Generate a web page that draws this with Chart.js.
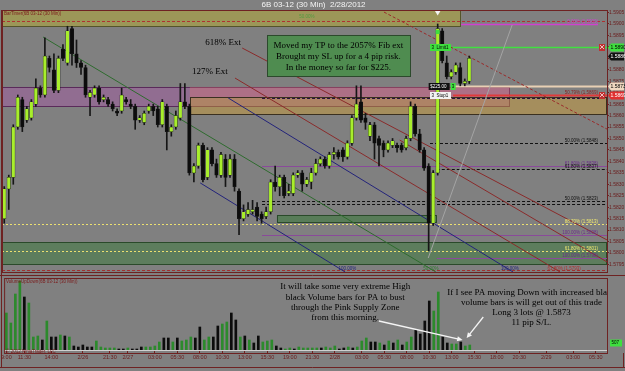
<!DOCTYPE html>
<html>
<head>
<meta charset="utf-8">
<script src="https://cdn.jsdelivr.net/npm/chart.js@4.4.1/dist/chart.umd.min.js"></script>
<style>
  html, body { margin: 0; padding: 0; background: #808080; }
  #wrap { position: relative; width: 625px; height: 371px; overflow: hidden; background: #808080; }
  canvas { position: absolute; left: 0; }
  #price { top: 0; }
  #volume { top: 275px; }
</style>
</head>
<body>
<div id="wrap">
  <canvas id="price" width="625" height="276"></canvas>
  <canvas id="volume" width="625" height="96"></canvas>
</div>
<script>
// 30 min bars, 6B 03-12
const SLOT_COUNT = 134; // 104 bars + empty space on the right

const opens = [
  1.5815, 1.5828, 1.5833, 1.5855, 1.5867, 1.5858, 1.5859, 1.5865, 1.5872, 1.5869,
  1.5885, 1.5880, 1.5871, 1.5889, 1.5883, 1.5898, 1.5887, 1.5883, 1.5881, 1.5868,
  1.5869, 1.5872, 1.5867, 1.5867, 1.5865, 1.5862, 1.5862, 1.5867, 1.5865, 1.5864,
  1.5858, 1.5857, 1.5862, 1.5864, 1.5863, 1.5856, 1.5864, 1.5853, 1.5855, 1.5859,
  1.5866, 1.5864, 1.5835, 1.5838, 1.5847, 1.5833, 1.5845, 1.5839, 1.5834, 1.5841,
  1.5834, 1.5841, 1.5827, 1.5815, 1.5817, 1.5818, 1.5820, 1.5817, 1.5816, 1.5818,
  1.5831, 1.5829, 1.5833, 1.5826, 1.5826, 1.5834, 1.5835, 1.5830, 1.5831, 1.5835,
  1.5839, 1.5841, 1.5838, 1.5843, 1.5844, 1.5845, 1.5842, 1.5848, 1.5859, 1.5866,
  1.5859, 1.5851, 1.5856, 1.5850, 1.5848, 1.5845, 1.5847, 1.5847, 1.5847, 1.5846,
  1.5850, 1.5864, 1.5852, 1.5845, 1.5838, 1.5813, 1.5835, 1.5897, 1.5883, 1.5877,
  1.5879, 1.5881, 1.5874, 1.5875
];
const highs = [
  1.5829, 1.5834, 1.5856, 1.5869, 1.5868, 1.5864, 1.5867, 1.5876, 1.5873, 1.5894,
  1.5886, 1.5887, 1.5886, 1.5891, 1.5899, 1.5899, 1.5893, 1.5884, 1.5882, 1.5871,
  1.5873, 1.5873, 1.5869, 1.5868, 1.5866, 1.5863, 1.5872, 1.5868, 1.5867, 1.5865,
  1.5860, 1.5862, 1.5865, 1.5865, 1.5864, 1.5867, 1.5865, 1.5856, 1.5862, 1.5874,
  1.5874, 1.5865, 1.5839, 1.5848, 1.5848, 1.5846, 1.5846, 1.5841, 1.5844, 1.5843,
  1.5843, 1.5843, 1.5828, 1.5821, 1.5822, 1.5823, 1.5822, 1.5818, 1.5820, 1.5832,
  1.5838, 1.5834, 1.5834, 1.5830, 1.5835, 1.5836, 1.5836, 1.5833, 1.5837, 1.5841,
  1.5842, 1.5842, 1.5844, 1.5846, 1.5845, 1.5846, 1.5849, 1.5860, 1.5873, 1.5873,
  1.5861, 1.5857, 1.5857, 1.5851, 1.5849, 1.5849, 1.5850, 1.5848, 1.5848, 1.5851,
  1.5866, 1.5865, 1.5854, 1.5846, 1.5839, 1.5836, 1.5900, 1.5898, 1.5886, 1.5880,
  1.5883, 1.5883, 1.5876, 1.5886
];
const lows = [
  1.5813, 1.5819, 1.5830, 1.5854, 1.5853, 1.5857, 1.5858, 1.5864, 1.5868, 1.5868,
  1.5879, 1.5870, 1.5870, 1.5884, 1.5882, 1.5882, 1.5881, 1.5878, 1.5868, 1.5860,
  1.5868, 1.5865, 1.5866, 1.5864, 1.5862, 1.5860, 1.5861, 1.5865, 1.5863, 1.5854,
  1.5857, 1.5856, 1.5861, 1.5860, 1.5855, 1.5855, 1.5845, 1.5851, 1.5854, 1.5858,
  1.5863, 1.5834, 1.5831, 1.5837, 1.5831, 1.5832, 1.5838, 1.5833, 1.5833, 1.5829,
  1.5833, 1.5827, 1.5808, 1.5814, 1.5816, 1.5817, 1.5814, 1.5813, 1.5815, 1.5817,
  1.5827, 1.5825, 1.5824, 1.5825, 1.5825, 1.5833, 1.5827, 1.5829, 1.5828, 1.5834,
  1.5838, 1.5837, 1.5837, 1.5841, 1.5841, 1.5840, 1.5841, 1.5847, 1.5858, 1.5857,
  1.5854, 1.5849, 1.5841, 1.5838, 1.5842, 1.5844, 1.5846, 1.5844, 1.5844, 1.5845,
  1.5849, 1.5851, 1.5844, 1.5836, 1.5801, 1.5812, 1.5834, 1.5883, 1.5876, 1.5876,
  1.5878, 1.5873, 1.5873, 1.5874
];
const closes = [
  1.5828, 1.5833, 1.5855, 1.5868, 1.5855, 1.5863, 1.5866, 1.5872, 1.5869, 1.5886,
  1.5881, 1.5871, 1.5885, 1.5885, 1.5897, 1.5887, 1.5883, 1.5881, 1.5869, 1.5870,
  1.5872, 1.5866, 1.5868, 1.5865, 1.5863, 1.5861, 1.5869, 1.5866, 1.5864, 1.5858,
  1.5859, 1.5861, 1.5864, 1.5862, 1.5856, 1.5866, 1.5853, 1.5855, 1.5860, 1.5866,
  1.5864, 1.5835, 1.5838, 1.5847, 1.5832, 1.5845, 1.5839, 1.5834, 1.5843, 1.5833,
  1.5841, 1.5829, 1.5815, 1.5818, 1.5819, 1.5819, 1.5816, 1.5815, 1.5818, 1.5831,
  1.5829, 1.5833, 1.5825, 1.5827, 1.5834, 1.5835, 1.5830, 1.5832, 1.5835, 1.5839,
  1.5841, 1.5838, 1.5843, 1.5844, 1.5842, 1.5842, 1.5848, 1.5859, 1.5865, 1.5858,
  1.5857, 1.5856, 1.5848, 1.5847, 1.5845, 1.5848, 1.5849, 1.5846, 1.5845, 1.5850,
  1.5864, 1.5852, 1.5845, 1.5837, 1.5813, 1.5835, 1.5898, 1.5884, 1.5877, 1.5879,
  1.5882, 1.5874, 1.5875, 1.5885
];

const volumes = [
  3700, 2700, 5600, 6900, 5300, 4700, 1300, 1400, 1000, 2900,
  1300, 1300, 1500, 1400, 1300, 400, 300, 500, 300, 300,
  900, 300, 200, 200, 200, 100, 100, 200, 100, 100,
  300, 300, 300, 400, 800, 1200, 1200, 800, 1200, 900,
  1000, 1300, 1200, 2300, 1000, 1300, 1300, 2400, 2600, 2800,
  3700, 3000, 1300, 1400, 1000, 700, 1400, 800, 900, 1000,
  400, 200, 100, 200, 100, 300, 200, 200, 200, 200,
  200, 300, 200, 400, 100, 200, 300, 200, 300, 900,
  1200, 800, 800, 700, 500, 900, 700, 1000, 500, 800,
  1300, 2000, 1600, 2900, 4900, 3900, 5800, 1300, 700, 600,
  600, 800, 400, 500
];
// 1 = up volume (green), 0 = down volume (black)
const volumeUp = [
  1, 1, 1, 1, 0, 1, 1, 1, 0, 1,
  0, 0, 1, 0, 1, 0, 0, 0, 0, 0,
  1, 1, 1, 1, 1, 0, 0, 1, 0, 0,
  0, 1, 1, 1, 1, 0, 0, 1, 0, 1,
  1, 1, 0, 0, 1, 1, 0, 0, 1, 1,
  0, 0, 1, 0, 1, 0, 0, 1, 1, 1,
  0, 0, 1, 1, 0, 1, 1, 1, 1, 1,
  0, 1, 1, 1, 0, 0, 1, 0, 1, 1,
  1, 0, 0, 1, 0, 1, 0, 1, 0, 1,
  1, 0, 0, 0, 0, 1, 1, 0, 0, 1,
  1, 0, 1, 1
];

const timeLabels = ['9:00', '11:30', '14:00', '2/26', '21:30', '2/27', '03:00', '05:30', '08:00', '10:30',
  '13:00', '15:30', '19:00', '21:30', '2/28', '03:00', '05:30', '08:00', '10:30', '13:00',
  '15:30', '18:00', '20:30', '2/29', '03:00', '05:30'];
const timeSlots = [0, 4, 10, 17, 23, 27, 33, 38, 43, 48, 53, 58, 63, 68, 73, 79, 84, 89, 94, 99,
  104, 109, 114, 120, 126, 131];

const priceTicks = [1.5795, 1.5800, 1.5805, 1.5810, 1.5815, 1.5820, 1.5825, 1.5830, 1.5835, 1.5840,
  1.5845, 1.5850, 1.5855, 1.5860, 1.5865, 1.5870, 1.5875, 1.5880, 1.5885, 1.5890, 1.5895, 1.5900, 1.5905];
const priceMin = 1.57917, priceMax = 1.59061;

const slotLabels = Array.from({ length: SLOT_COUNT }, () => '');
timeSlots.forEach((s, k) => { slotLabels[s] = timeLabels[k]; });

// drawing objects, anchored in bar index / price
const zones = [
  { from: -0.5, to: 101.2, hi: 1.5906, lo: 1.58987, fill: 'rgba(190,180,40,0.45)', line: '#55552a' },
  { from: -0.5, to: 112, hi: 1.58725, lo: 1.58638, fill: 'rgba(170,80,170,0.4)', line: '#5a2a5a' },
  { from: 41.1, to: 112, hi: 1.58725, lo: 1.58681, fill: 'rgba(240,120,110,0.3)', line: null },
  { from: 41.1, to: 133.5, hi: 1.58681, lo: 1.58603, fill: 'rgba(210,160,50,0.45)', line: '#3a3020' },
  { from: -0.5, to: 133.5, hi: 1.58048, lo: 1.57948, fill: 'rgba(40,120,40,0.4)', line: '#2a4a2a' },
  { from: 60.4, to: 95.8, hi: 1.58166, lo: 1.58131, fill: 'rgba(40,120,40,0.45)', line: '#2a4a2a' }
];
const levels = [
  { p: 1.59015, from: -0.5, to: 133.5, color: '#b03030', dash: [3, 2] },
  { p: 1.5900, from: 101.2, to: 131.5, color: '#d040d0', w: 1.5 },
  { p: 1.5890, from: 94.3, to: 133.5, color: '#40e040', w: 1.5 },
  { p: 1.5873, from: 99.4, to: 133.5, color: '#e8d0b4', w: 2 },
  { p: 1.5869, from: 99.4, to: 133.5, color: '#e03a3a', w: 2 },
  { p: 1.58677, from: 57.1, to: 133.5, color: '#2a1040', dash: [3, 2] },
  { p: 1.5848, from: 94.3, to: 133.5, color: '#111', dash: [3, 2] },
  { p: 1.5838, from: 57.1, to: 133.5, color: '#8a4a9a' },
  { p: 1.58367, from: 95.8, to: 133.5, color: '#111', dash: [3, 2] },
  { p: 1.58227, from: 57.1, to: 133.5, color: '#111', dash: [3, 2] },
  { p: 1.58216, from: 57.1, to: 133.5, color: '#111', dash: [3, 2] },
  { p: 1.58127, from: -0.5, to: 133.5, color: '#ece070', dash: [2, 2] },
  { p: 1.58079, from: 57.1, to: 133.5, color: '#8a4a9a' },
  { p: 1.58009, from: -0.5, to: 133.5, color: '#ece070', dash: [2, 2] },
  { p: 1.57978, from: 95.8, to: 133.5, color: '#8a4a9a' },
  { p: 1.57925, from: -0.5, to: 133.5, color: '#a03030', dash: [3, 2] }
];
const trendLines = [
  { a: [8.6, 1.58943], b: [95.6, 1.57917], color: '#2e6b2e' },
  { a: [43.4, 1.58306], b: [75.5, 1.57917], color: '#23237a' },
  { a: [49.6, 1.58677], b: [112.7, 1.57917], color: '#23237a' },
  { a: [84.1, 1.59052], b: [133.5, 1.58541], color: '#9a2a2a', dash: [3, 2] },
  { a: [52.7, 1.58895], b: [133.5, 1.58057], color: '#8a2a2a' },
  { a: [51.1, 1.58764], b: [123.1, 1.57917], color: '#8a2a2a' },
  { a: [87.6, 1.58493], b: [133.5, 1.57961], color: '#8a2a2a' },
  { a: [93.9, 1.57978], b: [112.5, 1.58996], color: '#a4a4a4' }
];
const fibTags = [
  { p: 1.5900, text: '0.00% (1.5900)', color: '#d040d0' },
  { p: 1.5869, text: '50.79% (1.5869)', color: '#8a2020' },
  { p: 1.5848, text: '50.00% (1.5848)', color: '#111' },
  { p: 1.5838, text: '61.80% (1.5838)', color: '#6a2a8a' },
  { p: 1.58367, text: '61.80% (1.5837)', color: '#111' },
  { p: 1.58227, text: '50.00% (1.5823)', color: '#111' },
  { p: 1.58127, text: '88.70% (1.5813)', color: '#f0e870' },
  { p: 1.58079, text: '100.00% (1.5808)', color: '#6a2a8a' },
  { p: 1.58009, text: '61.80% (1.5801)', color: '#f0e870' },
  { p: 1.57978, text: '100.00% (1.5798)', color: '#6a2a8a' }
];
const axisTags = [
  { p: 1.5890, text: '1.5890', fill: '#3ee03e', color: '#000' },
  { p: 1.5886, text: '1.5886', fill: '#101010', color: '#fff' },
  { p: 1.5873, text: '1.5873', fill: '#f0d8c0', color: '#000' },
  { p: 1.5869, text: '1.5869', fill: '#e03030', color: '#fff' }
];
const orderTags = [
  { p: 1.5890, at: 94.3, text: '3  Limit1', fill: '#3ee03e', color: '#000' },
  { p: 1.5873, at: 94.0, text: '$225.00', fill: '#101010', color: '#fff', badge: '3' },
  { p: 1.5869, at: 94.3, text: '3  Stop1', fill: '#f2f2f2', color: '#000' }
];
const priceNotes = [
  { text: '618% Ext', x: 44.5, p: 1.58908, align: 'left' },
  { text: '127% Ext', x: 41.6, p: 1.58782, align: 'left' }
];
const noteBox = { from: 58.2, to: 89.9, hi: 1.58952, lo: 1.58773, x: 74,
  lines: ['Moved my TP to the 2057% Fib ext', 'Brought my SL up for a 4 pip risk.', 'In the money so far for $225.'],
  at: [1.58904, 1.58856, 1.58808] };
const volumeNotes = [
  { x: 75.3, at: [6300, 5270, 4240, 3210],
    lines: ['It will take some very extreme High', 'black Volume bars for PA to bust', 'through the Pink Supply Zone', 'from this morning.'] },
  { x: 116.7, at: [5700, 4700, 3700, 2700],
    lines: ['If I see PA moving Down with increased black', 'volume bars is will get out of this trade', 'Long 3 lots @ 1.5873', '11 pip S/L.'] }
];
const arrows = [
  { a: [82.8, 2900], b: [101.4, 1000] },
  { a: [106.0, 3300], b: [102.3, 1200] }
];

const FRAME = '#6e2222';
const SERIF = 'Liberation Serif';
Chart.defaults.font.family = 'Liberation Sans';

function hLine(ctx, x0, x1, y, color, w, dash) {
  ctx.save();
  ctx.strokeStyle = color;
  ctx.lineWidth = w || 1;
  ctx.setLineDash(dash || []);
  ctx.beginPath();
  ctx.moveTo(x0, Math.round(y) + 0.5);
  ctx.lineTo(x1, Math.round(y) + 0.5);
  ctx.stroke();
  ctx.restore();
}

const pricePlugin = {
  id: 'priceDecor',
  beforeDatasetsDraw(chart) {
    const { ctx, chartArea: a, scales: { x, y } } = chart;
    ctx.save();
    ctx.beginPath();
    ctx.rect(a.left, a.top, a.right - a.left, a.bottom - a.top);
    ctx.clip();
    zones.forEach(z => {
      const x0 = x.getPixelForValue(z.from), x1 = x.getPixelForValue(z.to);
      const y0 = y.getPixelForValue(z.hi), y1 = y.getPixelForValue(z.lo);
      ctx.fillStyle = z.fill;
      ctx.fillRect(x0, y0, x1 - x0, y1 - y0);
      if (z.line) {
        ctx.strokeStyle = z.line;
        ctx.lineWidth = 1;
        ctx.strokeRect(Math.round(x0) + 0.5, Math.round(y0) + 0.5, Math.round(x1 - x0) - 1, Math.round(y1 - y0) - 1);
      }
    });
    levels.forEach(l => hLine(ctx, x.getPixelForValue(l.from), x.getPixelForValue(l.to), y.getPixelForValue(l.p), l.color, l.w, l.dash));
    trendLines.forEach(t => {
      ctx.save();
      ctx.strokeStyle = t.color;
      ctx.lineWidth = 1;
      ctx.setLineDash(t.dash || []);
      ctx.beginPath();
      ctx.moveTo(x.getPixelForValue(t.a[0]), y.getPixelForValue(t.a[1]));
      ctx.lineTo(x.getPixelForValue(t.b[0]), y.getPixelForValue(t.b[1]));
      ctx.stroke();
      ctx.restore();
    });
    // band labels
    ctx.font = '4.5px Liberation Sans';
    ctx.textBaseline = 'middle';
    ctx.textAlign = 'left';
    ctx.fillStyle = '#7a1a1a';
    ctx.fillText('BarTimer(6B 03-12 (30 Min))', a.left + 2, a.top + 4);
    ctx.fillStyle = '#4f9a3f';
    ctx.textAlign = 'center';
    ctx.fillText('50.00%', x.getPixelForValue(67), y.getPixelForValue(1.5903));
    ctx.restore();
  },
  afterDatasetsDraw(chart) {
    const { ctx, chartArea: a, scales: { x, y } } = chart;
    ctx.save();
    ctx.beginPath();
    ctx.rect(a.left, a.top, a.right - a.left, a.bottom - a.top);
    ctx.clip();

    // fib level texts
    ctx.font = '4.5px Liberation Sans';
    ctx.textAlign = 'right';
    ctx.textBaseline = 'bottom';
    fibTags.forEach(f => {
      ctx.fillStyle = f.color;
      ctx.fillText(f.text, a.right - 9, y.getPixelForValue(f.p));
    });
    ctx.textAlign = 'center';
    ctx.fillStyle = '#23237a';
    ctx.fillText('100.00%', x.getPixelForValue(76), a.bottom - 1);
    ctx.fillText('100.00%', x.getPixelForValue(112), a.bottom - 1);
    ctx.fillStyle = '#2e7b2e';
    ctx.fillText('50.00%', x.getPixelForValue(94.5), a.bottom - 1);
    ctx.fillStyle = '#b03030';
    ctx.fillText('61.80% (1.5793)', x.getPixelForValue(124), a.bottom - 1);

    // chart trader labels
    ctx.textBaseline = 'middle';
    ctx.textAlign = 'left';
    orderTags.forEach(o => {
      const px = x.getPixelForValue(o.at), py = Math.round(y.getPixelForValue(o.p));
      ctx.fillStyle = o.fill;
      ctx.fillRect(px, py - 3, 21, 7);
      ctx.fillStyle = o.color;
      ctx.fillText(o.text, px + 1.5, py + 0.5);
      if (o.badge) {
        ctx.fillStyle = '#3ee03e';
        ctx.fillRect(px + 22, py - 3, 5, 7);
        ctx.fillStyle = '#000';
        ctx.fillText(o.badge, px + 23, py + 0.5);
      }
    });
    [1.5890, 1.5869].forEach(p => {
      const py = Math.round(y.getPixelForValue(p));
      ctx.fillStyle = '#c03030';
      ctx.fillRect(a.right - 8, py - 3, 6, 7);
      ctx.strokeStyle = '#fff';
      ctx.lineWidth = 0.7;
      ctx.beginPath();
      ctx.moveTo(a.right - 7, py - 2); ctx.lineTo(a.right - 3, py + 2);
      ctx.moveTo(a.right - 3, py - 2); ctx.lineTo(a.right - 7, py + 2);
      ctx.stroke();
    });

    // high marker
    const mx = x.getPixelForValue(96);
    const my = y.getPixelForValue(1.5905);
    ctx.fillStyle = '#f4f4f4';
    ctx.beginPath();
    ctx.moveTo(mx - 3, my - 2); ctx.lineTo(mx + 3, my - 2); ctx.lineTo(mx, my + 3);
    ctx.closePath();
    ctx.fill();
    ctx.fillStyle = '#3ee03e';
    ctx.fillRect(mx - 2, y.getPixelForValue(1.58965) - 2, 4, 4);

    // text notes
    ctx.fillStyle = '#000';
    ctx.font = '9px ' + SERIF;
    ctx.textBaseline = 'alphabetic';
    priceNotes.forEach(n => {
      ctx.textAlign = n.align;
      ctx.fillText(n.text, x.getPixelForValue(n.x), y.getPixelForValue(n.p));
    });
    const bx0 = x.getPixelForValue(noteBox.from), bx1 = x.getPixelForValue(noteBox.to);
    const by0 = y.getPixelForValue(noteBox.hi), by1 = y.getPixelForValue(noteBox.lo);
    ctx.fillStyle = '#4f8c50';
    ctx.fillRect(bx0, by0, bx1 - bx0, by1 - by0);
    ctx.strokeStyle = '#2c4a2c';
    ctx.lineWidth = 1;
    ctx.strokeRect(Math.round(bx0) + 0.5, Math.round(by0) + 0.5, Math.round(bx1 - bx0), Math.round(by1 - by0));
    ctx.fillStyle = '#000';
    ctx.textAlign = 'center';
    ctx.textBaseline = 'middle';
    noteBox.lines.forEach((t, k) => ctx.fillText(t, x.getPixelForValue(noteBox.x), y.getPixelForValue(noteBox.at[k])));
    ctx.restore();

    // right axis tags
    ctx.save();
    ctx.font = '5px Liberation Sans';
    ctx.textAlign = 'left';
    ctx.textBaseline = 'middle';
    axisTags.forEach(t => {
      const py = Math.round(y.getPixelForValue(t.p));
      ctx.fillStyle = t.fill;
      ctx.beginPath();
      ctx.moveTo(a.right + 1, py + 0.5);
      ctx.lineTo(a.right + 4, py - 3.5);
      ctx.lineTo(a.right + 17, py - 3.5);
      ctx.lineTo(a.right + 17, py + 4.5);
      ctx.lineTo(a.right + 4, py + 4.5);
      ctx.closePath();
      ctx.fill();
      ctx.fillStyle = t.color;
      ctx.fillText(t.text, a.right + 3.5, py + 0.5);
    });
    // panel frame
    ctx.strokeStyle = FRAME;
    ctx.lineWidth = 1;
    ctx.strokeRect(a.left + 0.5, a.top + 0.5, a.right - a.left, a.bottom - a.top);
    hLine(ctx, 0, chart.width, chart.height - 1, FRAME, 1);
    ctx.beginPath();
    ctx.moveTo(1.5, a.top); ctx.lineTo(1.5, chart.height);
    ctx.stroke();
    ctx.restore();
  }
};

const volumePlugin = {
  id: 'volumeDecor',
  afterDatasetsDraw(chart) {
    const { ctx, chartArea: a, scales: { x, y } } = chart;
    ctx.save();
    ctx.strokeStyle = FRAME;
    ctx.lineWidth = 1;
    ctx.strokeRect(a.left + 0.5, a.top + 0.5, a.right - a.left, a.bottom - a.top + 3);
    hLine(ctx, 0, chart.width, chart.height - 4, FRAME, 1);
    ctx.beginPath();
    ctx.moveTo(1.5, 0); ctx.lineTo(1.5, chart.height - 3);
    ctx.moveTo(623.5, a.bottom + 3); ctx.lineTo(623.5, chart.height - 3);
    ctx.stroke();

    ctx.font = '4.5px Liberation Sans';
    ctx.fillStyle = '#7a1a1a';
    ctx.textAlign = 'left';
    ctx.textBaseline = 'middle';
    ctx.fillText('VolumeUpDown(6B 03-12 (30 Min))', a.left + 2, a.top + 4);
    ctx.fillText('\u00a9 2012 NinjaTrader, LLC', a.left + 2, a.bottom + 2);

    // volume tag on the axis
    const ty = Math.round(y.getPixelForValue(700));
    ctx.fillStyle = '#3ee03e';
    ctx.fillRect(a.right + 3, ty - 3.5, 12, 7);
    ctx.fillStyle = '#000';
    ctx.fillText('507', a.right + 4.5, ty);

    ctx.beginPath();
    ctx.rect(a.left, a.top, a.right - a.left, a.bottom - a.top);
    ctx.clip();
    ctx.font = '9px ' + SERIF;
    ctx.fillStyle = '#000';
    ctx.textAlign = 'center';
    volumeNotes.forEach(n => n.lines.forEach((t, k) => ctx.fillText(t, x.getPixelForValue(n.x), y.getPixelForValue(n.at[k]))));

    ctx.strokeStyle = '#f4f4f4';
    ctx.fillStyle = '#f4f4f4';
    ctx.lineWidth = 1.3;
    arrows.forEach(ar => {
      const x0 = x.getPixelForValue(ar.a[0]), y0 = y.getPixelForValue(ar.a[1]);
      const x1 = x.getPixelForValue(ar.b[0]), y1 = y.getPixelForValue(ar.b[1]);
      const ang = Math.atan2(y1 - y0, x1 - x0);
      ctx.beginPath();
      ctx.moveTo(x0, y0);
      ctx.lineTo(x1 - 4 * Math.cos(ang), y1 - 4 * Math.sin(ang));
      ctx.stroke();
      ctx.beginPath();
      ctx.moveTo(x1, y1);
      ctx.lineTo(x1 - 6 * Math.cos(ang - 0.45), y1 - 6 * Math.sin(ang - 0.45));
      ctx.lineTo(x1 - 6 * Math.cos(ang + 0.45), y1 - 6 * Math.sin(ang + 0.45));
      ctx.closePath();
      ctx.fill();
    });
    ctx.restore();
  }
};

const candleColors = opens.map((o, i) => closes[i] >= o ? '#a8ee2c' : '#0c0c0c');

new Chart(document.getElementById('price'), {
  type: 'bar',
  data: {
    labels: slotLabels,
    datasets: [
      {
        label: 'body',
        data: opens.map((o, i) => [o, closes[i]]),
        backgroundColor: candleColors,
        borderColor: '#1a1a1a',
        borderWidth: 0.5,
        borderSkipped: false,
        barThickness: 3.5,
        minBarLength: 1,
        grouped: false,
        order: 0
      },
      {
        label: 'wick',
        data: lows.map((l, i) => [l, highs[i]]),
        backgroundColor: '#161616',
        barThickness: 1,
        grouped: false,
        order: 1
      }
    ]
  },
  options: {
    responsive: false,
    animation: false,
    devicePixelRatio: 1,
    layout: { padding: { left: 2, right: 0, top: 0, bottom: 4 } },
    plugins: {
      legend: { display: false },
      tooltip: { enabled: false },
      title: {
        display: true,
        text: '6B 03-12 (30 Min)  2/28/2012',
        color: '#f4f4f4',
        font: { size: 8, weight: 'normal' },
        padding: { top: 0, bottom: 0.4 }
      }
    },
    scales: {
      x: { display: false, offset: true },
      y: {
        position: 'right',
        min: priceMin,
        max: priceMax,
        afterBuildTicks: s => { s.ticks = priceTicks.map(v => ({ value: v })); },
        afterFit: s => { s.width = 18; },
        ticks: { callback: v => v.toFixed(4), font: { size: 5 }, color: '#6a1a1a', padding: 0 },
        grid: { drawOnChartArea: false, tickLength: 2, color: FRAME },
        border: { color: FRAME }
      }
    }
  },
  plugins: [pricePlugin]
});

new Chart(document.getElementById('volume'), {
  type: 'bar',
  data: {
    labels: slotLabels,
    datasets: [{
      label: 'volume',
      data: volumes,
      backgroundColor: volumeUp.map(u => u ? '#2c8a2c' : '#0c0c0c'),
      barThickness: 2
    }]
  },
  options: {
    responsive: false,
    animation: false,
    devicePixelRatio: 1,
    layout: { padding: { left: 2, right: 0, top: 3, bottom: 0 } },
    plugins: { legend: { display: false }, tooltip: { enabled: false } },
    scales: {
      x: {
        offset: true,
        afterBuildTicks: s => { s.ticks = timeSlots.map(v => ({ value: v })); },
        afterFit: s => { s.height = 21; },
        ticks: { autoSkip: false, maxRotation: 0, minRotation: 0, font: { size: 5.5 }, color: '#6a1a1a', padding: 1 },
        grid: { drawOnChartArea: false, offset: false, tickLength: 3, color: FRAME },
        border: { color: '#d0d0d0' }
      },
      y: {
        position: 'right',
        min: 0,
        max: 7200,
        afterFit: s => { s.width = 18; },
        ticks: { display: false },
        grid: { display: false },
        border: { color: FRAME }
      }
    }
  },
  plugins: [volumePlugin]
});
</script>
</body>
</html>
